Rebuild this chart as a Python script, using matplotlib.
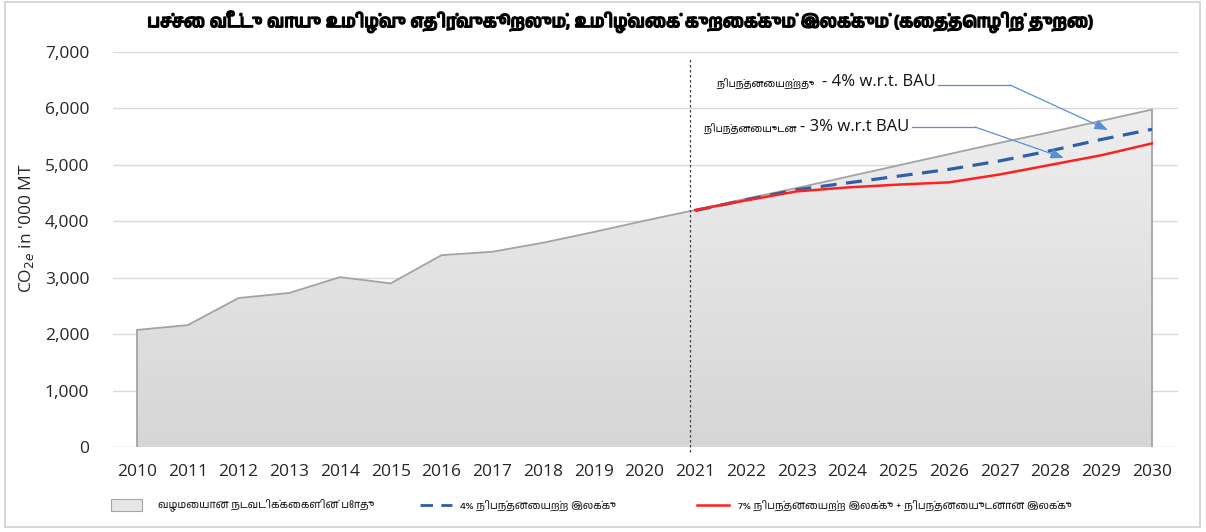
import matplotlib
matplotlib.use("Agg")
import matplotlib.pyplot as plt
from matplotlib import font_manager as fm
from matplotlib.patches import Rectangle, Polygon
from matplotlib.lines import Line2D
from matplotlib.colors import LinearSegmentedColormap
import matplotlib.patheffects as pe
import numpy as np

# ---------------- data ----------------
years = [2010, 2011, 2012, 2013, 2014, 2015, 2016, 2017, 2018, 2019, 2020,
         2021, 2022, 2023, 2024, 2025, 2026, 2027, 2028, 2029, 2030]
bau = [2075, 2160, 2640, 2730, 3010, 2900, 3400, 3460, 3620, 3810, 4010,
       4200, 4400, 4590, 4790, 4990, 5190, 5390, 5580, 5780, 5980]
target_years = [2021, 2022, 2023, 2024, 2025, 2026, 2027, 2028, 2029, 2030]
uncond_4 = [4190, 4380, 4560, 4680, 4800, 4920, 5070, 5250, 5450, 5630]
cond_7 = [4200, 4370, 4530, 4600, 4650, 4690, 4830, 5000, 5170, 5380]
yticks = [0, 1000, 2000, 3000, 4000, 5000, 6000, 7000]

title = "பச்சை வீட்டு வாயு உமிழ்வு எதிர்வுகூறலும், உமிழ்வைக் குறைக்கும் இலக்கும் (கைத்தொழிற் துறை)"
ylabel = "CO$_{2e}$ in '000 MT"
leg_bau = "வழமையான நடவடிக்கைகளின் போது"
leg_4 = "4% நிபந்தனையற்ற இலக்கு"
leg_7 = "7% நிபந்தனையற்ற இலக்கு + நிபந்தனையுடனான இலக்கு"
ann1_ta, ann1_en = "நிபந்தனையற்றது", "- 4% w.r.t. BAU"
ann2_ta, ann2_en = "நிபந்தனையுடன", "- 3% w.r.t BAU"
divider_year = 2020.9

# ---------------- fonts ----------------
tamil = []
for f in fm.fontManager.ttflist:
    if "tamil" in f.name.lower() or "tamil" in f.fname.lower():
        if f.name not in tamil:
            tamil.append(f.name)
latin = "Open Sans"
fam_ta = tamil + ["Noto Sans", "DejaVu Sans"]
fam_en = [latin, "DejaVu Sans"]
plt.rcParams["font.family"] = fam_en

# ---------------- figure ----------------
W, H = 1206, 532
fig = plt.figure(figsize=(W / 100, H / 100), dpi=100)
fig.patch.set_facecolor("white")

def fx(px):
    return px / W

def fy(py):
    return 1 - py / H

ax = fig.add_axes([fx(113), fy(447), (1178 - 113) / W, (447 - 52) / H])
for s in ax.spines.values():
    s.set_visible(False)
ax.set_facecolor("none")

ax.set_yticks(yticks)
ax.set_yticklabels([f"{v:,}" for v in yticks], fontsize=12.5, color="#262626")
ax.set_xticks(years)
ax.set_xticklabels([str(y) for y in years], fontsize=12.5, color="#262626")
ax.tick_params(axis="y", length=0, pad=17)
ax.tick_params(axis="x", length=0, pad=12)
ax.grid(axis="y", color="#d9d9d9", lw=1, zorder=0)
ax.set_axisbelow(True)

# gradient area
px_ = [years[0]] + years + [years[-1]]
py_ = [0] + bau + [0]
poly = Polygon(np.column_stack([px_, py_]), closed=True, facecolor="none", edgecolor="none")
ax.add_patch(poly)
grad = np.linspace(0, 1, 256).reshape(-1, 1)
cmap = LinearSegmentedColormap.from_list("g", ["#d6d6d6", "#eeeeee"])
im = ax.imshow(grad, extent=[years[0], years[-1], 0, max(bau)], origin="lower",
               aspect="auto", cmap=cmap, zorder=1)
im.set_clip_path(poly)
ax.plot(px_, py_, color="#a3a3a3", lw=1.3, zorder=2)
ax.set_xlim(2009.527, 2030.512)
ax.set_ylim(0, 7000)

# divider
ax.plot([divider_year, divider_year], [-0.012, 0.985], transform=ax.get_xaxis_transform(),
        color="#404040", lw=0.9, ls=(0, (2, 2)), zorder=3, clip_on=False)

# target lines
ax.plot(target_years, uncond_4, color="#2f5fa7", lw=2.3, ls=(0, (5, 3)), zorder=4)
ax.plot(target_years, cond_7, color="#ff2020", lw=1.8, zorder=5)

# annotations (positions in axes fraction)
arrow_col = "#5a8fd8"
def afx(px):
    return (px - 113) / (1178 - 113)
def afy(py):
    return (447 - py) / (447 - 52)

for (x0, y0), (x1, y1), (x2, y2) in [((938, 85), (1010, 85), (1108, 130)),
                                     ((912, 127), (975, 127), (1064, 158))]:
    ax.plot([afx(x0), afx(x1)], [afy(y0), afy(y1)], transform=ax.transAxes,
            color=arrow_col, lw=0.9, zorder=6, clip_on=False)
    ax.annotate("", xy=(afx(x2), afy(y2)), xytext=(afx(x1), afy(y1)),
                xycoords="axes fraction", textcoords="axes fraction",
                arrowprops=dict(arrowstyle="-|>,head_length=0.8,head_width=0.3",
                                color=arrow_col, lw=0.9, shrinkA=0, shrinkB=0),
                zorder=6)

fig.text(fx(815), fy(84), ann1_ta, ha="right", va="center", fontsize=7,
         family=fam_ta, color="#111111")
fig.text(fx(822), fy(82), ann1_en, ha="left", va="center", fontsize=12,
         family=fam_en, color="#111111")
fig.text(fx(797), fy(129), ann2_ta, ha="right", va="center", fontsize=7,
         family=fam_ta, color="#111111")
fig.text(fx(800), fy(127), ann2_en, ha="left", va="center", fontsize=12,
         family=fam_en, color="#111111")

# title & ylabel
fig.text(fx(620), fy(22), title, ha="center", va="center", fontsize=12.5,
         fontweight="bold", family=fam_ta, color="#000000",
         path_effects=[pe.withStroke(linewidth=1.1, foreground="#000000")])
fig.text(fx(26), fy(228), ylabel, ha="center", va="center", rotation=90,
         fontsize=12.5, family=fam_en, color="#262626")

# legend (manual)
leg_fs = 7.6
fig.patches.append(Rectangle((fx(111), fy(511)), (142 - 111) / W, 12 / H,
                             transform=fig.transFigure, facecolor="#e6e6e6",
                             edgecolor="#a6a6a6", lw=0.8))
fig.text(fx(158), fy(505), leg_bau, ha="left", va="center", fontsize=leg_fs,
         family=fam_ta, color="#222222")
fig.lines.append(Line2D([fx(420), fx(452)], [fy(505), fy(505)], transform=fig.transFigure,
                        color="#2f5fa7", lw=2, ls=(0, (4.5, 3))))
fig.text(fx(460), fy(505), leg_4, ha="left", va="center", fontsize=leg_fs,
         family=fam_ta, color="#222222")
fig.lines.append(Line2D([fx(697), fx(729)], [fy(505), fy(505)], transform=fig.transFigure,
                        color="#ff2020", lw=1.8))
fig.text(fx(738), fy(505), leg_7, ha="left", va="center", fontsize=leg_fs,
         family=fam_ta, color="#222222")

# outer frame
fig.patches.append(Rectangle((fx(5), fy(527)), (1200 - 5) / W, (527 - 2) / H,
                             transform=fig.transFigure, facecolor="none",
                             edgecolor="#d0d0d0", lw=1.2))

fig.savefig("out.png", dpi=100)
